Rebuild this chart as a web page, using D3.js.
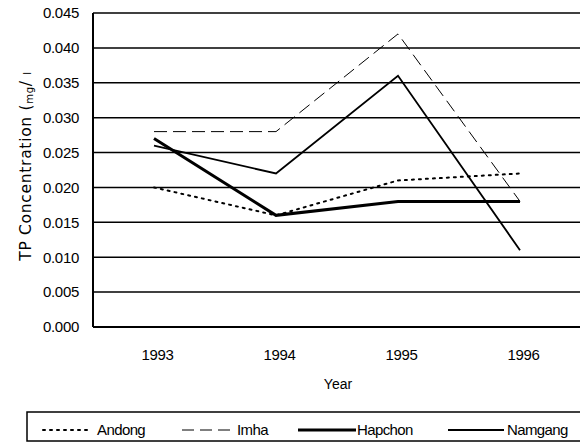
<!DOCTYPE html>
<html>
<head>
<meta charset="utf-8">
<script src="https://cdn.jsdelivr.net/npm/d3@7"></script>
<style>
  body { margin: 0; background: #fff; }
  svg { display: block; }
  text { font-family: 'Liberation Sans', Arial, sans-serif; fill: #000; }
</style>
</head>
<body>
<div id="chart"></div>
<script>
const years = ['1993', '1994', '1995', '1996'];
const andong = [0.020, 0.016, 0.021, 0.022];
const imha = [0.028, 0.028, 0.042, 0.018];
const hapchon = [0.027, 0.016, 0.018, 0.018];
const namgang = [0.026, 0.022, 0.036, 0.011];
const yTicks = [0, 0.005, 0.010, 0.015, 0.020, 0.025, 0.030, 0.035, 0.040, 0.045];

const width = 580;
const height = 443;
const margin = { top: 13, left: 93, bottom: 116 };

// band-like categories, the last band runs past the right edge
const bandW = 122;
const plotRight = margin.left + bandW * years.length;
const plotBottom = height - margin.bottom;

const series = [
  { name: 'Andong', values: andong, width: 2, dash: '2,5', cap: 'round' },
  { name: 'Imha', values: imha, width: 1, dash: '13,6', cap: 'butt' },
  { name: 'Hapchon', values: hapchon, width: 3, dash: null, cap: 'butt' },
  { name: 'Namgang', values: namgang, width: 1.8, dash: null, cap: 'butt' },
];

const svg = d3.select('#chart')
  .append('svg')
  .attr('width', width)
  .attr('height', height);

const x = d3.scalePoint()
  .domain(years)
  .range([margin.left, plotRight])
  .padding(0.5);

const y = d3.scaleLinear()
  .domain([0, 0.045])
  .range([plotBottom, margin.top]);

// gridlines
svg.append('g')
  .selectAll('line')
  .data(yTicks)
  .join('line')
  .attr('x1', margin.left)
  .attr('x2', width)
  .attr('y1', (d) => y(d))
  .attr('y2', (d) => y(d))
  .attr('stroke', '#000')
  .attr('stroke-width', (d) => (d === 0 ? 2 : 1.5));

// left border of the plot
svg.append('line')
  .attr('x1', margin.left)
  .attr('x2', margin.left)
  .attr('y1', y(0.045))
  .attr('y2', y(0))
  .attr('stroke', '#000')
  .attr('stroke-width', 2);

// y axis labels
const yAxis = d3.axisLeft(y)
  .tickValues(yTicks)
  .tickFormat(d3.format('.3f'))
  .tickSize(0)
  .tickPadding(14);

const yAxisGroup = svg.append('g')
  .attr('transform', `translate(${margin.left}, 0)`)
  .call(yAxis);
yAxisGroup.select('.domain').remove();
yAxisGroup.selectAll('text')
  .style('font-size', '15px')
  .style('letter-spacing', '-0.3px')
  .attr('fill', '#000');

// x axis labels
const xAxis = d3.axisBottom(x).tickSize(0).tickPadding(22);
const xAxisGroup = svg.append('g')
  .attr('transform', `translate(3, ${plotBottom})`)
  .call(xAxis);
xAxisGroup.select('.domain').remove();
xAxisGroup.selectAll('text')
  .style('font-size', '15px')
  .style('letter-spacing', '-0.3px')
  .attr('fill', '#000');

// axis titles
svg.append('text')
  .attr('x', 338)
  .attr('y', 389)
  .attr('text-anchor', 'middle')
  .style('font-size', '14px')
  .text('Year');

const yTitle = svg.append('text')
  .attr('transform', 'translate(31, 166) rotate(-90)')
  .attr('text-anchor', 'middle')
  .style('font-family', "'DejaVu Sans', sans-serif")
  .style('font-size', '15.5px')
  .style('letter-spacing', '0.7px');
yTitle.append('tspan').text('TP Concentration (');
yTitle.append('tspan').style('font-size', '10px').attr('dy', 2).text('mg');
yTitle.append('tspan').attr('dy', -2).text('/ ');
yTitle.append('tspan').style('font-size', '10px').text('l');

// series lines
const line = d3.line()
  .x((d, i) => x(years[i]))
  .y((d) => y(d));

svg.append('g')
  .selectAll('path')
  .data(series)
  .join('path')
  .attr('d', (d) => line(d.values))
  .attr('fill', 'none')
  .attr('stroke', '#000')
  .attr('stroke-width', (d) => d.width)
  .attr('stroke-dasharray', (d) => d.dash)
  .attr('stroke-linecap', (d) => d.cap)
  .attr('stroke-linejoin', 'miter');

// legend
const legend = svg.append('g');
legend.append('rect')
  .attr('x', 27)
  .attr('y', 412)
  .attr('width', 600)
  .attr('height', 29)
  .attr('fill', 'none')
  .attr('stroke', '#000')
  .attr('stroke-width', 1.5);

const legendPos = [
  { x1: 43, x2: 90, tx: 97 },
  { x1: 182, x2: 233, tx: 237 },
  { x1: 298, x2: 356, tx: 357 },
  { x1: 448, x2: 504, tx: 507 },
];

const items = legend.selectAll('g.item')
  .data(series)
  .join('g')
  .attr('class', 'item');

items.append('line')
  .attr('x1', (d, i) => legendPos[i].x1)
  .attr('x2', (d, i) => legendPos[i].x2)
  .attr('y1', 430)
  .attr('y2', 430)
  .attr('stroke', '#000')
  .attr('stroke-width', (d) => d.width)
  .attr('stroke-dasharray', (d) => (d.name === 'Imha' ? '12,6' : d.dash))
  .attr('stroke-linecap', (d) => d.cap);

items.append('text')
  .attr('x', (d, i) => legendPos[i].tx)
  .attr('y', 435)
  .style('font-size', '15px')
  .style('letter-spacing', '-0.6px')
  .text((d) => d.name);
</script>
</body>
</html>
